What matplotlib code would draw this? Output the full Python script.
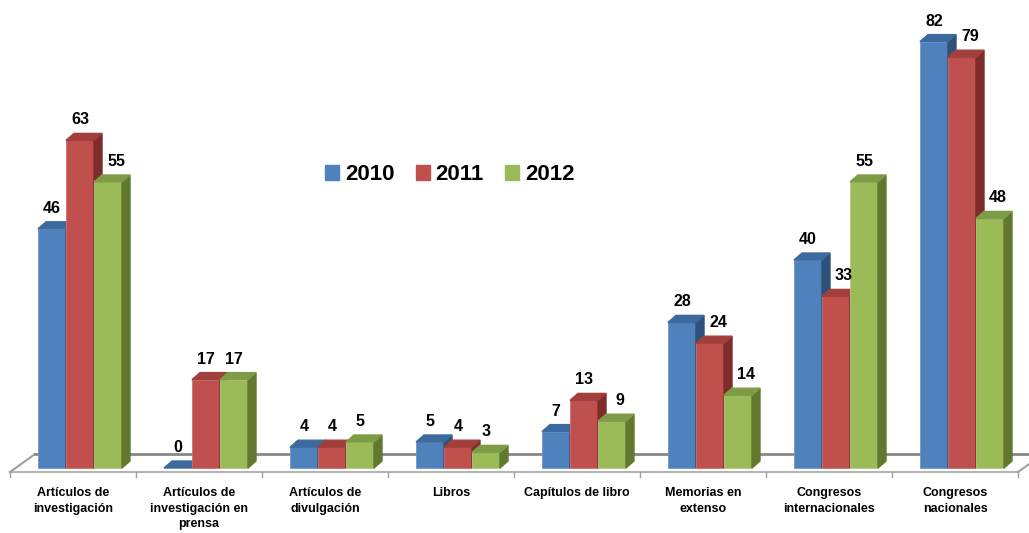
import numpy as np
import matplotlib.pyplot as plt
from matplotlib.patches import Polygon, Patch

plt.rcParams['font.family'] = ['Liberation Sans', 'DejaVu Sans']
plt.rcParams['font.weight'] = 'bold'

categories = ['Artículos de\ninvestigación', 'Artículos de\ninvestigación en\nprensa',
              'Artículos de\ndivulgación', 'Libros', 'Capítulos de libro',
              'Memorias en\nextenso', 'Congresos\ninternacionales', 'Congresos\nnacionales']
years = ['2010', '2011', '2012']
v2010 = [46, 0, 4, 5, 7, 28, 40, 82]
v2011 = [63, 17, 4, 4, 13, 24, 33, 79]
v2012 = [55, 17, 5, 3, 9, 14, 55, 48]

front = ['#4F81BD', '#C0504D', '#9BBB59']
top = ['#3C6A9E', '#A23F3C', '#7E9B46']
side = ['#2F5078', '#7C2D2B', '#61782F']
edge = ['#6E98CC', '#D0706D', '#B2CC80']

# pixel -> data helpers (category pitch 126 px, 5.2 px per unit)
XU = 126.0
YU = 5.2
dx = 8 / XU
dy = 7 / YU
bw = 28 / XU
goff = 7 / XU

fig = plt.figure(figsize=(10.29, 5.33), dpi=100)
ax = fig.add_axes([0, 0, 1, 1])
ax.set_xlim(-73 / XU, (1029 - 73) / XU)
ax.set_ylim(-(533 - 468) / YU, 468 / YU)
ax.axis('off')

n = len(categories)
x = np.arange(n)

# floor
yf = -4 / YU
yb = 14 / YU
fx = 25 / XU
ax.plot([-0.5, n - 0.5], [yf, yf], color='#b4b4b4', lw=1.5, zorder=1)
ax.plot([-0.5, -0.5 + fx], [yf, yb], color='#a0a0a0', lw=1.5, zorder=1)
ax.plot([-0.5 + fx, n - 0.5 + fx], [yb, yb], color='#878787', lw=2, zorder=1)
ax.plot([n - 0.5, n - 0.5 + fx], [yf, yb], color='#a0a0a0', lw=1.5, zorder=1)
for k in range(n + 1):
    ax.plot([-0.5 + k, -0.5 + k], [yf, yf - 5 / YU], color='#a0a0a0', lw=1, zorder=1)

series = [v2010, v2011, v2012]
z = 2
for i in range(n):
    for j, vals in enumerate(series):
        v = vals[i]
        xl = x[i] + goff + (j - 1.5) * bw
        xr = xl + bw
        if v > 0:
            ax.bar(xl, v, bw, align='edge', color=front[j], edgecolor=edge[j],
                   linewidth=0.6, zorder=z)
            ax.add_patch(Polygon([(xr, 0), (xr + dx, dy), (xr + dx, v + dy), (xr, v)],
                                 closed=True, color=side[j], zorder=z))
        ax.add_patch(Polygon([(xl, v), (xl + dx, v + dy), (xr + dx, v + dy), (xr, v)],
                             closed=True, color=top[j], zorder=z))
        # label nudged right when the bar on its left is taller
        tx = xl + bw / 2
        if j > 0 and series[j - 1][i] - v >= 3:
            tx += 8 / XU
        ax.text(tx, v + 16 / YU, str(v), ha='center', va='baseline',
                fontsize=11.5, fontweight='bold', zorder=50)
        z += 1

for i, c in enumerate(categories):
    ax.text(x[i], -19 / YU, c, ha='center', va='top', fontsize=9,
            fontweight='bold', linespacing=1.4)

handles = [Patch(color=front[j], label=years[j]) for j in range(3)]
ax.legend(handles=handles, loc='center', bbox_to_anchor=(0.437, 0.672),
          ncol=3, frameon=False, prop={'size': 16, 'weight': 'bold'},
          handlelength=0.63, handleheight=0.63, handletextpad=0.27,
          columnspacing=0.95)

fig.savefig('out.png', dpi=100)
